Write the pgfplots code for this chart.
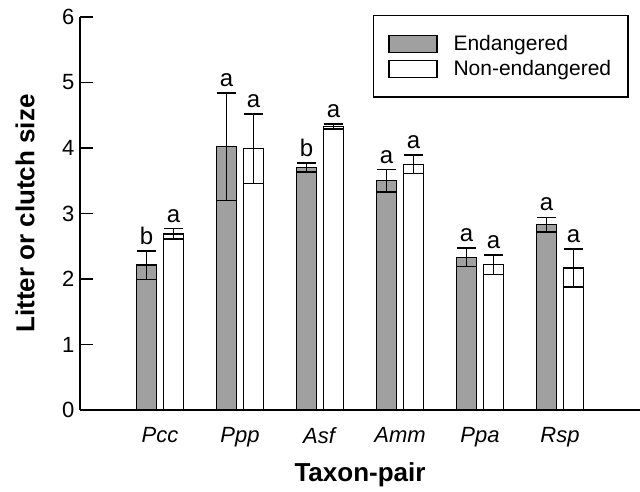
\documentclass[border=0pt]{standalone}
\usepackage{fontspec}
\setmainfont{Liberation Sans}
\usepackage{pgfplots}
\pgfplotsset{compat=1.18}
\usepackage{pgfplotstable}
\definecolor{bargray}{RGB}{160,160,160}
\pgfplotstableread{
x E Eerr N Nerr
1 2.21 0.22 2.69 0.08
2 4.02 0.82 3.99 0.53
3 3.70 0.07 4.33 0.04
4 3.50 0.17 3.75 0.14
5 2.33 0.14 2.22 0.15
6 2.83 0.11 2.17 0.29
}\datatable
\begin{document}
\begin{tikzpicture}
\begin{axis}[
  scale only axis, width=560pt, height=393pt,
  xmin=0, xmax=7, ymin=0, ymax=6,
  axis lines*=left,
  axis line style={line width=1.5pt},
  clip=false,
  ytick={0,1,2,3,4,5,6},
  tick align=inside, major tick length=13pt,
  ytick style={line width=1.5pt, black},
  xtick={1,2,3,4,5,6},
  xticklabels={\textit{Pcc},\textit{Ppp},\textit{Asf},\textit{Amm},\textit{Ppa},\textit{Rsp}},
  xtick style={draw=none},
  /pgf/number format/assume math mode=true,
  ticklabel style={font=\fontsize{22}{22}\selectfont},
  yticklabel style={xshift=-2pt},
  xticklabel style={yshift=-14pt},
  xlabel={\textbf{Taxon-pair}},
  ylabel={\textbf{Litter or clutch size}},
  label style={font=\fontsize{26}{26}\selectfont},
  xlabel style={at={(axis description cs:0.5,0)}, anchor=center, yshift=-65pt},
  ylabel style={at={(axis description cs:0,0.5)}, anchor=center, yshift=55pt},
  legend style={at={(axis description cs:0.98,1.005)}, anchor=north east,
    draw=black, line width=1.3pt, font=\fontsize{21}{21}\selectfont,
    inner xsep=15pt, inner ysep=18pt, row sep=4pt,
    /tikz/every odd column/.append style={column sep=14pt}},
  legend cell align=left,
  legend image code/.code={\draw[#1, line width=1.3pt] (0pt,-8.5pt) rectangle (48pt,8.5pt);},
]
\addplot[ybar, bar width=20pt, bar shift=0pt, fill=bargray, draw=black, line width=1.5pt,
  error bars/.cd, y dir=both, y explicit,
  error bar style={line width=1.5pt, black},
  error mark options={rotate=90, mark size=9.5pt, line width=1.5pt, black}]
  table[x expr=\thisrow{x}-0.16875, y=E, y error=Eerr]{\datatable};
\addlegendentry{Endangered}
\addplot[ybar, bar width=20pt, bar shift=0pt, fill=white, draw=black, line width=1.5pt,
  error bars/.cd, y dir=both, y explicit,
  error bar style={line width=1.5pt, black},
  error mark options={rotate=90, mark size=9.5pt, line width=1.5pt, black}]
  table[x expr=\thisrow{x}+0.16875, y=N, y error=Nerr]{\datatable};
\addlegendentry{Non-endangered}
\coordinate (O) at (axis cs:0,0);
\begin{scope}[every node/.style={font=\fontsize{24}{24}\selectfont, anchor=south, inner sep=0pt, yshift=6pt}]
\node at (axis cs:0.83125,2.43) {b};
\node at (axis cs:1.16875,2.77) {a};
\node at (axis cs:1.83125,4.84) {a};
\node at (axis cs:2.16875,4.52) {a};
\node at (axis cs:2.83125,3.77) {b};
\node at (axis cs:3.16875,4.37) {a};
\node at (axis cs:3.83125,3.67) {a};
\node at (axis cs:4.16875,3.89) {a};
\node at (axis cs:4.83125,2.47) {a};
\node at (axis cs:5.16875,2.37) {a};
\node at (axis cs:5.83125,2.94) {a};
\node at (axis cs:6.16875,2.46) {a};
\end{scope}
\end{axis}
\pgfresetboundingbox
\path[use as bounding box] ([shift={(-80pt,-82pt)}]O) rectangle ([shift={(560pt,410pt)}]O);
\end{tikzpicture}
\end{document}
